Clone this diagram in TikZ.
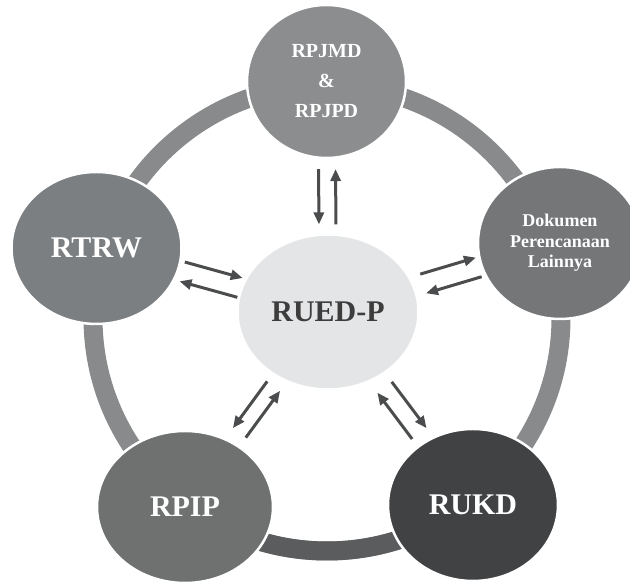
\documentclass[tikz,border=0pt]{standalone}
\usepackage{fontspec}
\setmainfont{Liberation Serif}
\usetikzlibrary{calc,arrows.meta,shapes.geometric}
\definecolor{ringgray}{HTML}{898A8B}
\definecolor{ringdark}{HTML}{5B5C5D}
\definecolor{arrgray}{HTML}{4B4C4D}
\tikzset{
    bub/.style={ellipse, draw=white, line width=2.5pt, minimum width=170pt, minimum height=152pt, inner sep=0pt,
        text=white, align=center, font=\bfseries\fontsize{30}{32}\selectfont},
    arr/.style={->, line width=3pt, arrgray},
}

\begin{document}
\begin{tikzpicture}[x=1pt,y=1pt,>={Triangle[length=12pt,width=10pt]}]
    \useasboundingbox (0,0) rectangle (630,585);
    \coordinate (c) at (327,267);
    \draw[ringgray, line width=19pt] (c) ellipse [x radius=234, y radius=233];
    \draw[ringdark, line width=19pt] ($(c)+(235:234 and 233)$) arc [start angle=235, end angle=305, x radius=234, y radius=233];
    \node[bub, minimum width=159pt, minimum height=153pt, fill={rgb,255:red,139;green,141;blue,142}, font=\bfseries\fontsize{20}{30}\selectfont] (rpjmd) at (326.5,503.5) {RPJMD\\\&\\RPJPD};
    \node[bub, fill={rgb,255:red,124;green,127;blue,130}] (rtrw) at (96.5,337) {RTRW};
    \node[bub, minimum width=164pt, fill={rgb,255:red,116;green,118;blue,120}, font=\bfseries\fontsize{18}{20.5}\selectfont] (dok) at (560,342) {Dokumen\\Perencanaan\\Lainnya};
    \node[bub, minimum width=176pt, fill={rgb,255:red,111;green,113;blue,113}] (rpip) at (185,78) {RPIP};
    \node[bub, fill={rgb,255:red,64;green,66;blue,68}] (rukd) at (473,80) {RUKD};
    \node[bub, minimum width=181pt, minimum height=155pt, fill={rgb,255:red,228;green,229;blue,230}, text={rgb,255:red,61;green,61;blue,61}] (rued) at (328,273) {RUED-P};
    % panah dua arah
    \draw[arr] ($(rpjmd)!0.38!(rued)!8.5pt!-90:(rued)$) -- ($(rpjmd)!0.62!(rued)!8.5pt!-90:(rued)$);
    \draw[arr] ($(rued)!0.38!(rpjmd)!8.5pt!-90:(rpjmd)$) -- ($(rued)!0.62!(rpjmd)!8.5pt!-90:(rpjmd)$);
    \draw[arr] ($(rtrw)!0.37!(rued)!10pt!90:(rued)$) -- ($(rtrw)!0.62!(rued)!10pt!90:(rued)$);
    \draw[arr] ($(rued)!0.38!(rtrw)!10pt!90:(rtrw)$) -- ($(rued)!0.63!(rtrw)!10pt!90:(rtrw)$);
    \draw[arr] ($(rued)!0.41!(dok)!10pt!90:(dok)$) -- ($(rued)!0.65!(dok)!10pt!90:(dok)$);
    \draw[arr] ($(dok)!0.35!(rued)!10pt!90:(rued)$) -- ($(dok)!0.59!(rued)!10pt!90:(rued)$);
    \draw[arr] ($(rued)!0.38!(rpip)!8pt!-90:(rpip)$) -- ($(rued)!0.62!(rpip)!8pt!-90:(rpip)$);
    \draw[arr] ($(rpip)!0.38!(rued)!8pt!-90:(rued)$) -- ($(rpip)!0.62!(rued)!8pt!-90:(rued)$);
    \draw[arr] ($(rued)!0.39!(rukd)!9pt!90:(rukd)$) -- ($(rued)!0.63!(rukd)!9pt!90:(rukd)$);
    \draw[arr] ($(rukd)!0.37!(rued)!9pt!90:(rued)$) -- ($(rukd)!0.61!(rued)!9pt!90:(rued)$);
\end{tikzpicture}
\end{document}
